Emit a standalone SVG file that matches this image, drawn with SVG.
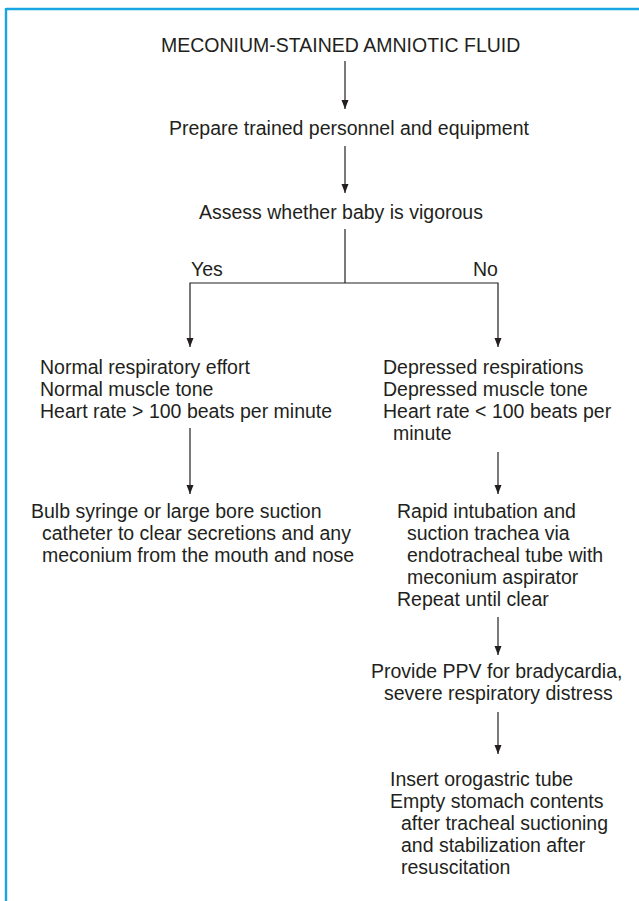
<svg xmlns="http://www.w3.org/2000/svg" width="639" height="901" viewBox="0 0 639 901">
<defs>
<marker id="ah" markerUnits="userSpaceOnUse" markerWidth="10" markerHeight="8" refX="9" refY="3.5" orient="auto">
<path d="M0,0 L9,3.5 L0,7 Z" fill="#231f20"/>
</marker>
</defs>
<style>
text{font-family:"Liberation Sans",Arial,Helvetica,sans-serif;font-size:19.5px;fill:#231f20}
.c{stroke:#231f20;stroke-width:1.2;fill:none}
.a{marker-end:url(#ah)}
</style>
<rect width="639" height="901" fill="#fff"/>
<g id="frame">
<line x1="6" y1="9" x2="639" y2="9" stroke="#17a6e1" stroke-width="2.6"/>
<line x1="6" y1="8" x2="6" y2="901" stroke="#17a6e1" stroke-width="2.4"/>
</g>
<g id="connectors">
<line class="c a" x1="345" y1="61" x2="345" y2="109"/>
<line class="c a" x1="345" y1="146" x2="345" y2="193"/>
<polyline class="c" points="345,229 345,283"/>
<polyline class="c a" points="345,283 190,283 190,347"/>
<polyline class="c a" points="345,283 498,283 498,347"/>
<line class="c a" x1="190" y1="428" x2="190" y2="494"/>
<line class="c a" x1="498" y1="452" x2="498" y2="494"/>
<line class="c a" x1="498" y1="617" x2="498" y2="655"/>
<line class="c a" x1="498" y1="712" x2="498" y2="754"/>
<text x="191" y="276">Yes</text>
<text x="473" y="276">No</text>
</g>
<g id="n1"><text x="161" y="52">MECONIUM-STAINED AMNIOTIC FLUID</text></g>
<g id="n2"><text x="169" y="135">Prepare trained personnel and equipment</text></g>
<g id="n3"><text x="199" y="219">Assess whether baby is vigorous</text></g>
<g id="n4">
<text x="40" y="374">Normal respiratory effort</text>
<text x="40" y="396">Normal muscle tone</text>
<text x="40" y="418">Heart rate &gt; 100 beats per minute</text>
</g>
<g id="n5">
<text x="383" y="374">Depressed respirations</text>
<text x="383" y="396">Depressed muscle tone</text>
<text x="383" y="418">Heart rate &lt; 100 beats per</text>
<text x="393" y="440">minute</text>
</g>
<g id="n6">
<text x="31" y="518">Bulb syringe or large bore suction</text>
<text x="42" y="540">catheter to clear secretions and any</text>
<text x="42" y="562">meconium from the mouth and nose</text>
</g>
<g id="n7">
<text x="397" y="518">Rapid intubation and</text>
<text x="407" y="540">suction trachea via</text>
<text x="407" y="562">endotracheal tube with</text>
<text x="407" y="584">meconium aspirator</text>
<text x="397" y="606">Repeat until clear</text>
</g>
<g id="n8">
<text x="371" y="678">Provide PPV for bradycardia,</text>
<text x="384" y="700">severe respiratory distress</text>
</g>
<g id="n9">
<text x="390" y="786">Insert orogastric tube</text>
<text x="390" y="808">Empty stomach contents</text>
<text x="401" y="830">after tracheal suctioning</text>
<text x="401" y="852">and stabilization after</text>
<text x="401" y="874">resuscitation</text>
</g>
</svg>
